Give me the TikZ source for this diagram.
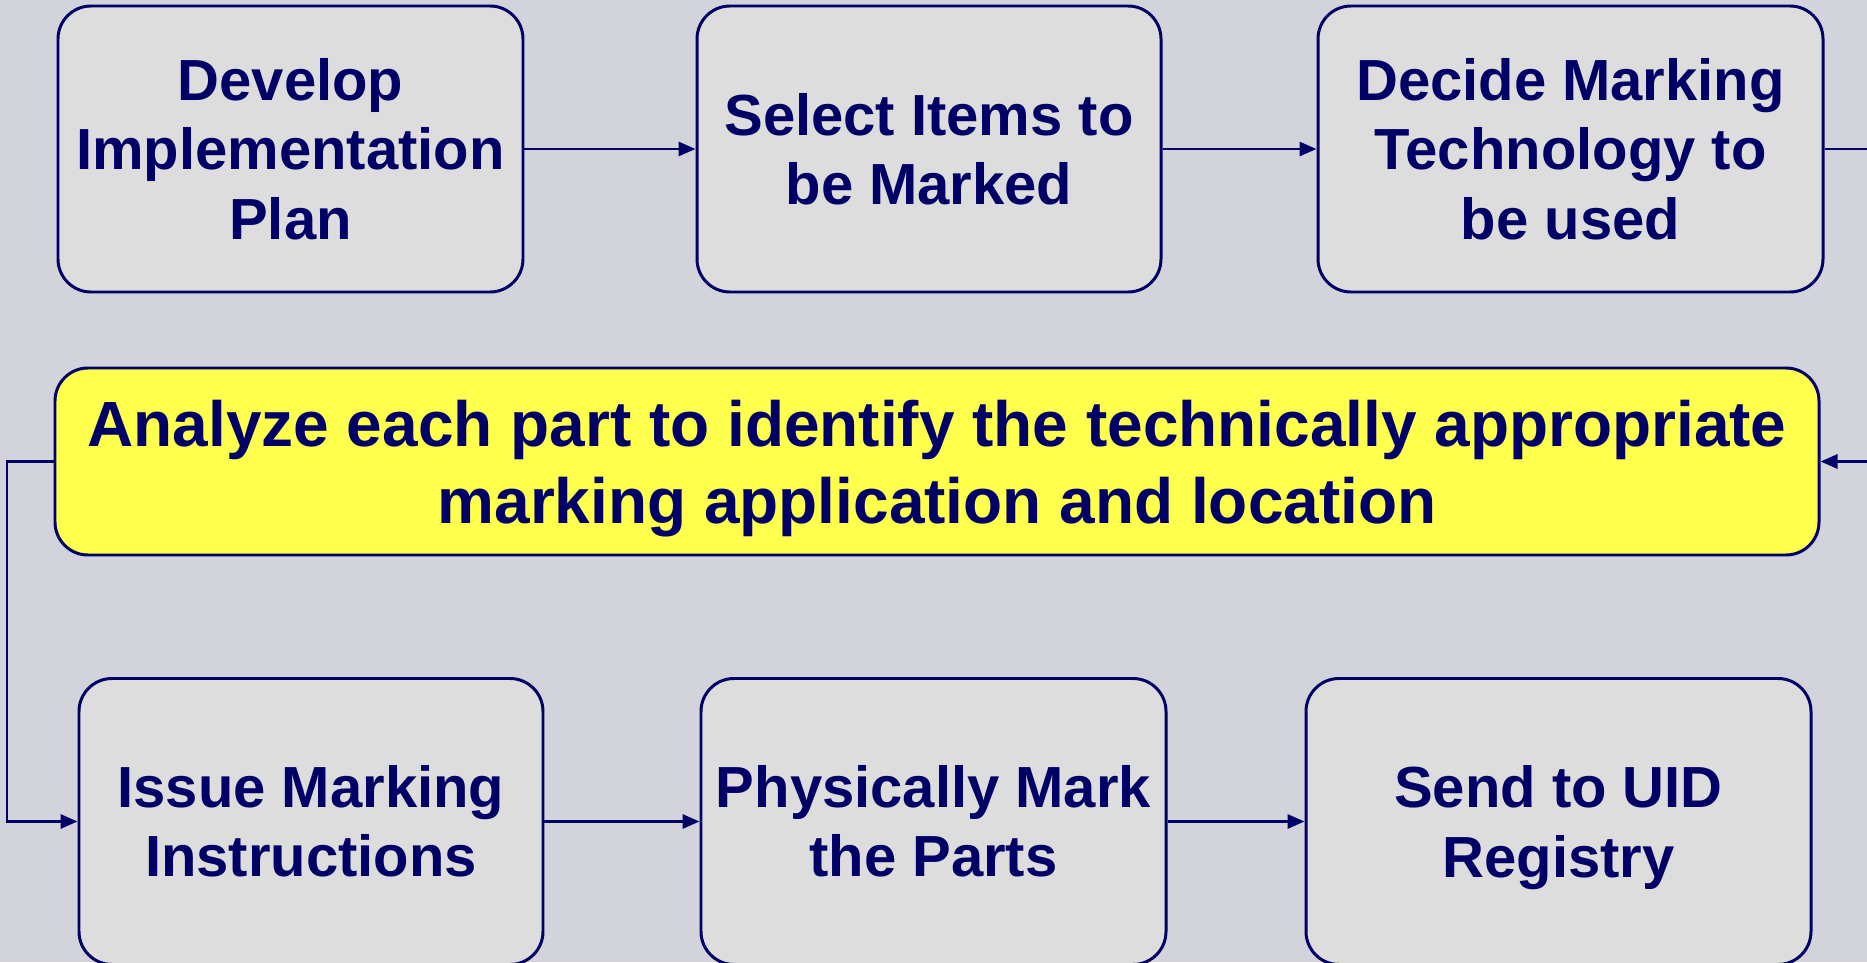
\documentclass[tikz,border=0pt]{standalone}
\usepackage{fontspec}
\setmainfont{Liberation Sans}
\usetikzlibrary{arrows.meta}

\definecolor{navy}{HTML}{000066}
\definecolor{boxgray}{HTML}{DDDDDD}
\definecolor{hilite}{HTML}{FFFF4D}
\definecolor{backdrop}{HTML}{D2D3DB}

\begin{document}
\begin{tikzpicture}
\useasboundingbox (0,0) rectangle (37.34,19.24);
\clip (0,0) rectangle (37.34,19.24);
\fill[backdrop] (0,0) rectangle (37.34,19.24);

\begin{scope}[every node/.style={draw=navy,line width=1.7pt,rounded corners=0.66cm,
      fill=boxgray,text=navy,align=center,minimum height=5.72cm,
      font=\fontsize{33}{39.5}\selectfont\bfseries}]
    \node[minimum width=9.3cm]  (A) at (5.81,16.26)  {Develop\\Implementation\\Plan};
    \node[minimum width=9.28cm] (B) at (18.58,16.26) {Select Items to\\be Marked};
    \node[minimum width=10.1cm] (C) at (31.41,16.26) {Decide Marking\\Technology to\\be used};
    \node[minimum width=35.28cm,minimum height=3.74cm,fill=hilite,
          font=\fontsize{36.4}{44}\selectfont\bfseries,text depth=-8pt]
          (Y) at (18.74,10.01) {Analyze each part to identify the technically appropriate\\marking application and location};
    \node[minimum width=9.28cm] (D) at (6.22,2.81)  {Issue Marking\\Instructions};
    \node[minimum width=9.3cm]  (E) at (18.67,2.81) {Physically Mark\\the Parts};
    \node[minimum width=10.1cm,text depth=0pt] (F) at (31.17,2.81) {Send to UID\\Registry};
\end{scope}

% the loop runs off the right side and back in on the left
\coordinate (R) at (38,10.01);
\coordinate (L) at (0.14,10.01);

\begin{scope}[>={Triangle[navy,length=0.34cm,width=0.28cm]},
              every edge/.style={draw=navy, line width=1.7pt}]
    \path [->] (A) edge (B);
    \path [->] (B) edge (C);
    \draw [->,navy,line width=1.7pt] (C.east) -| (R) -- (Y.east);
    \draw [->,navy,line width=1.7pt] (Y.west) -- (L) |- (D.west);
    \path [->] (D) edge (E);
    \path [->] (E) edge (F);
\end{scope}
\end{tikzpicture}
\end{document}
